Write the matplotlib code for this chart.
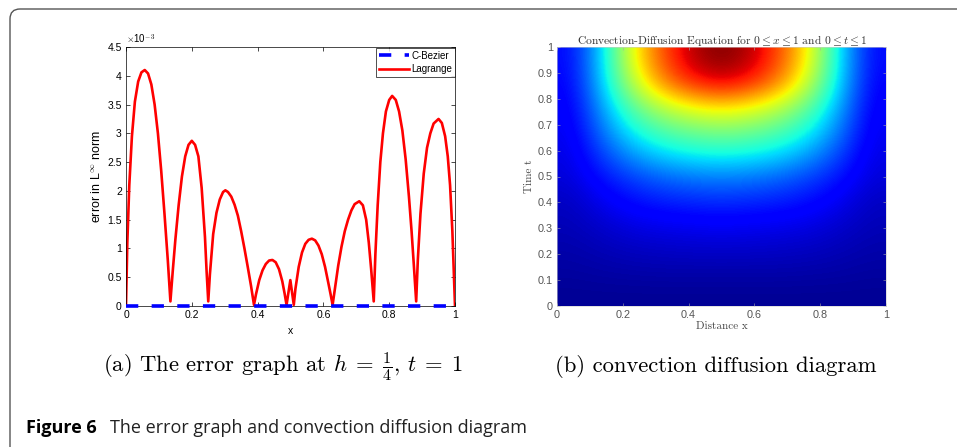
import matplotlib
matplotlib.use("Agg")
import matplotlib.pyplot as plt
import numpy as np
from matplotlib.patches import FancyBboxPatch

plt.rcParams['mathtext.fontset'] = 'cm'
plt.rcParams['axes.formatter.use_mathtext'] = True

# ---- (a) error curves, values in units of 1e-3 ----
lag_x = [0, 0.004, 0.01, 0.018, 0.027, 0.037, 0.047, 0.057, 0.067, 0.077, 0.087, 0.097, 0.107, 0.117, 0.127, 0.135,
         0.142, 0.15, 0.16, 0.17, 0.18, 0.19, 0.2, 0.21, 0.22, 0.23, 0.24, 0.245, 0.25,
         0.255, 0.265, 0.275, 0.285, 0.295, 0.302, 0.31, 0.32, 0.33, 0.34, 0.35, 0.36, 0.37, 0.38, 0.389,
         0.395, 0.405, 0.415, 0.425, 0.435, 0.445, 0.455, 0.465, 0.475, 0.482, 0.488,
         0.4995, 0.51,
         0.515, 0.525, 0.535, 0.545, 0.555, 0.565, 0.575, 0.585, 0.595, 0.605, 0.615, 0.622, 0.628,
         0.635, 0.645, 0.655, 0.665, 0.675, 0.685, 0.695, 0.709, 0.72, 0.73, 0.738, 0.745, 0.753,
         0.758, 0.765, 0.773, 0.781, 0.79, 0.8, 0.809, 0.82, 0.83, 0.84, 0.85, 0.86, 0.868, 0.875, 0.882,
         0.887, 0.895, 0.905, 0.915, 0.925, 0.935, 0.95, 0.96, 0.97, 0.978, 0.985, 0.992, 1.0]
lag_err = [0, 1.1, 2.1, 2.95, 3.55, 3.9, 4.06, 4.1, 4.04, 3.85, 3.5, 3.0, 2.35, 1.6, 0.8, 0.08,
           0.6, 1.15, 1.75, 2.25, 2.6, 2.8, 2.87, 2.8, 2.6, 2.05, 1.2, 0.6, 0.08,
           0.55, 1.25, 1.62, 1.85, 1.98, 2.01, 1.98, 1.9, 1.76, 1.57, 1.3, 1.0, 0.68, 0.35, 0.02,
           0.2, 0.45, 0.62, 0.73, 0.79, 0.8, 0.76, 0.64, 0.43, 0.22, 0.02,
           0.45, 0.02,
           0.3, 0.68, 0.93, 1.08, 1.15, 1.17, 1.14, 1.05, 0.9, 0.68, 0.4, 0.2, 0.02,
           0.3, 0.7, 1.03, 1.3, 1.5, 1.66, 1.77, 1.82, 1.75, 1.5, 1.1, 0.65, 0.08,
           0.9, 1.75, 2.5, 3.0, 3.38, 3.58, 3.65, 3.58, 3.38, 3.05, 2.55, 1.9, 1.3, 0.7, 0.08,
           0.8, 1.6, 2.3, 2.75, 3.0, 3.17, 3.25, 3.18, 2.95, 2.6, 2.1, 1.3, 0.0]
bez_x = [0, 1]
bez_err = [0, 0]

# ---- (b) solution field u(x, t), rows t = 0..1, cols x = 0..1 ----
u = [
    [0.02, 0.02, 0.02, 0.02, 0.02, 0.02, 0.02, 0.02, 0.02, 0.02, 0.02],
    [0.03, 0.035, 0.038, 0.04, 0.04, 0.04, 0.04, 0.04, 0.038, 0.035, 0.03],
    [0.04, 0.05, 0.06, 0.065, 0.068, 0.07, 0.068, 0.065, 0.06, 0.05, 0.04],
    [0.05, 0.07, 0.09, 0.10, 0.105, 0.11, 0.105, 0.10, 0.09, 0.07, 0.05],
    [0.06, 0.10, 0.135, 0.155, 0.165, 0.17, 0.165, 0.155, 0.135, 0.10, 0.06],
    [0.08, 0.14, 0.19, 0.225, 0.245, 0.255, 0.245, 0.225, 0.19, 0.14, 0.08],
    [0.09, 0.19, 0.28, 0.34, 0.37, 0.38, 0.37, 0.34, 0.28, 0.19, 0.09],
    [0.10, 0.24, 0.37, 0.45, 0.49, 0.51, 0.49, 0.45, 0.37, 0.24, 0.10],
    [0.11, 0.28, 0.46, 0.58, 0.65, 0.68, 0.65, 0.58, 0.46, 0.28, 0.11],
    [0.12, 0.32, 0.57, 0.76, 0.87, 0.92, 0.87, 0.76, 0.57, 0.32, 0.12],
    [0.13, 0.33, 0.63, 0.82, 0.95, 1.00, 0.95, 0.82, 0.63, 0.33, 0.13],
]

fig = plt.figure(figsize=(9.57, 4.47), dpi=100)

# rounded frame of the figure panel (pixel coords)
frame = FancyBboxPatch((10, -60), 1000, 447 - 9 + 60,
                       boxstyle="round,pad=0,rounding_size=10",
                       transform=None, fill=False,
                       edgecolor='#555555', lw=1.0)
fig.patches.append(frame)

sans = 'Liberation Sans'

ax1 = fig.add_axes([126 / 957, 1 - 306 / 447, 329 / 957, 259 / 447])
ax1.plot(bez_x, bez_err, color='blue', lw=2.6, dashes=(3.4, 3.7), label='C-Bezier',
         zorder=3, clip_on=False)
ax1.plot(lag_x, lag_err, color='red', lw=1.9, label='Lagrange', zorder=2)
ax1.set_xlim(0, 1)
ax1.set_ylim(0, 4.5)
ax1.set_xticks([0, 0.2, 0.4, 0.6, 0.8, 1])
ax1.set_xticklabels(['0', '0.2', '0.4', '0.6', '0.8', '1'])
ax1.set_yticks(np.arange(0, 4.51, 0.5))
ax1.set_yticklabels(['0', '0.5', '1', '1.5', '2', '2.5', '3', '3.5', '4', '4.5'])
ax1.tick_params(direction='in', top=True, right=True, labelsize=7.5, length=3, width=0.5, pad=3)
for lab in ax1.get_xticklabels() + ax1.get_yticklabels():
    lab.set_family(sans)
for s in ax1.spines.values():
    s.set_linewidth(0.5)
ax1.set_xlabel('x', fontsize=7.5, family=sans, labelpad=4)
ax1.set_ylabel(r'error in L$^{\infty}$ norm', fontsize=9, family=sans, labelpad=3)
ax1.text(0.0, 1.003, r'$\times$10$^{-3}$', transform=ax1.transAxes, fontsize=7,
         family=sans, ha='left', va='bottom')
leg = ax1.legend(loc='upper right', bbox_to_anchor=(1.0, 0.997), frameon=True,
                 fancybox=False, edgecolor='black', handlelength=3.1, borderpad=0.3,
                 labelspacing=0.35, handletextpad=0.2, borderaxespad=0.0,
                 prop={'family': sans, 'size': 7})
leg.get_frame().set_linewidth(0.6)

# ---- (b) ----
serif = 'cmr10'
ax2 = fig.add_axes([557 / 957, 1 - 306 / 447, 329 / 957, 259 / 447])
ax2.imshow(np.array(u), cmap='jet', origin='lower', extent=[0, 1, 0, 1],
           aspect='auto', interpolation='bicubic', vmin=0, vmax=1)
ax2.set_xlim(0, 1)
ax2.set_ylim(0, 1)
ax2.set_xticks([0, 0.2, 0.4, 0.6, 0.8, 1])
ax2.set_xticklabels(['0', '0.2', '0.4', '0.6', '0.8', '1'])
ax2.set_yticks(np.arange(0, 1.01, 0.1))
ax2.set_yticklabels(['0', '0.1', '0.2', '0.3', '0.4', '0.5', '0.6', '0.7', '0.8', '0.9', '1'])
ax2.tick_params(direction='in', top=True, right=True, labelsize=7.8, length=2, width=0.4,
                pad=3, color='#aaaaaa', labelcolor='#555555')
for lab in ax2.get_xticklabels() + ax2.get_yticklabels():
    lab.set_family(sans)
for s in ax2.spines.values():
    s.set_linewidth(0.4)
    s.set_color('#cccccc')
ax2.set_xlabel('Distance x', fontsize=8, family=serif, color='#444444', labelpad=1)
ax2.set_ylabel('Time t', fontsize=8, family=serif, color='#444444', labelpad=3)
ax2.set_title(r'Convection-Diffusion Equation for $0 \leq x \leq 1$ and $0 \leq t \leq 1$',
              fontsize=8.3, family=serif, color='#333333', pad=2)

# captions
fig.text(283 / 957, 1 - 367 / 447, r'(a) The error graph at $h\;=\;\frac{1}{4},\,t\;=\;1$',
         fontsize=16.3, family=serif, ha='center', va='center')
fig.text(716 / 957, 1 - 367 / 447, '(b) convection diffusion diagram',
         fontsize=16.3, family=serif, ha='center', va='center')
fig.text(26 / 957, 1 - 428 / 447, 'Figure 6', fontsize=13, family='Open Sans',
         weight='bold', ha='left', va='center')
fig.text(110 / 957, 1 - 428 / 447, 'The error graph and convection diffusion diagram',
         fontsize=13, family='Open Sans', ha='left', va='center', color='#222222')

fig.savefig('out.png', dpi=100)
